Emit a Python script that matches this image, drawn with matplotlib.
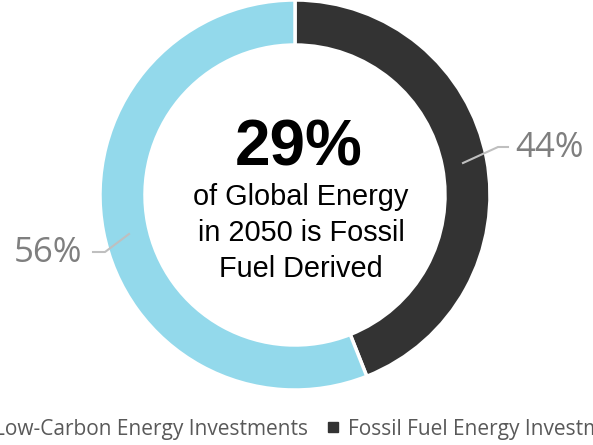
import matplotlib
matplotlib.use('Agg')
import matplotlib.pyplot as plt
from matplotlib.lines import Line2D

# ── 資料 ──────────────────────────────────────────────
categories = ['Fossil Fuel Energy Investments', 'Low-Carbon Energy Investments']
shares = [44, 56]
colors = ['#333333', '#93D9EB']
headline = '29%'
subtitle = 'of Global Energy\nin 2050 is Fossil\nFuel Derived'

W, H = 593, 445
fig = plt.figure(figsize=(W / 100, H / 100), dpi=100)
ax = fig.add_axes([0, 0, 1, 1])

cx, cy, r_out, r_in = 295, H - 195, 195, 150
wedges, _ = ax.pie(shares, colors=colors, startangle=90, counterclock=False,
                   center=(cx, cy), radius=r_out, frame=True,
                   wedgeprops=dict(width=r_out - r_in, edgecolor='white', linewidth=2.5))
ax.set_xlim(0, W)
ax.set_ylim(0, H)
ax.set_aspect('equal')
ax.axis('off')

# 中央標題
ax.text(299, H - 149, headline, ha='center', va='center', fontsize=46,
        fontweight='bold', family='Liberation Sans', color='black')
ax.text(301, H - 233, subtitle, ha='center', va='center', fontsize=20.8,
        family='Liberation Sans', color='black', linespacing=1.38)

# 百分比標籤與引線
lbl_kw = dict(fontsize=25, family='Open Sans', color='#7F7F7F', va='center')
ax.plot([463, 498, 508], [H - 163, H - 147, H - 147], color='#BFBFBF', lw=1.5)
ax.text(515, H - 148, f'{shares[0]}%', ha='left', **lbl_kw)
ax.plot([93, 105, 129], [H - 252, H - 252, H - 234], color='#BFBFBF', lw=1.5)
ax.text(82, H - 253, f'{shares[1]}%', ha='right', **lbl_kw)

# 圖例（下方）
handles = [Line2D([], [], marker='s', linestyle='none', markersize=6.5,
                  color=colors[1]),
           Line2D([], [], marker='s', linestyle='none', markersize=6.5,
                  color=colors[0])]
fig.legend(handles, [categories[1], categories[0]], loc='center',
           bbox_to_anchor=(0.517, 1 - 429 / H), ncol=2, frameon=False,
           prop=dict(family='Open Sans', size=15), labelcolor='#595959',
           handletextpad=0.2, columnspacing=0.7, handlelength=1.0)

fig.savefig('out.png', dpi=100)
